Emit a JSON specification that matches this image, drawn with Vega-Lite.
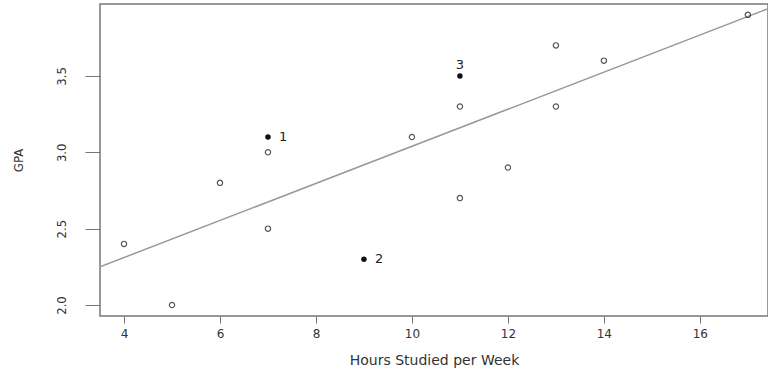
{
  "$schema": "https://vega.github.io/schema/vega-lite/v6.json",
  "width": 668,
  "height": 312,
  "autosize": {"type": "none"},
  "padding": {"left": 100, "top": 4, "right": 0, "bottom": 54},
  "background": "white",
  "config": {
    "view": {"stroke": "#777", "strokeWidth": 1.5},
    "font": "DejaVu Sans"
  },
  "datasets": {
    "pts": [
      {"hours": 4, "gpa": 2.4, "type": "open", "label": ""},
      {"hours": 5, "gpa": 2.0, "type": "open", "label": ""},
      {"hours": 6, "gpa": 2.8, "type": "open", "label": ""},
      {"hours": 7, "gpa": 3.0, "type": "open", "label": ""},
      {"hours": 7, "gpa": 2.5, "type": "open", "label": ""},
      {"hours": 10, "gpa": 3.1, "type": "open", "label": ""},
      {"hours": 11, "gpa": 3.3, "type": "open", "label": ""},
      {"hours": 11, "gpa": 2.7, "type": "open", "label": ""},
      {"hours": 12, "gpa": 2.9, "type": "open", "label": ""},
      {"hours": 13, "gpa": 3.7, "type": "open", "label": ""},
      {"hours": 13, "gpa": 3.3, "type": "open", "label": ""},
      {"hours": 14, "gpa": 3.6, "type": "open", "label": ""},
      {"hours": 17, "gpa": 3.9, "type": "open", "label": ""},
      {"hours": 7, "gpa": 3.1, "type": "filled", "label": "1"},
      {"hours": 9, "gpa": 2.3, "type": "filled", "label": "2"},
      {"hours": 11, "gpa": 3.5, "type": "filled", "label": "3"}
    ],
    "fit": [
      {"hours": 3.5, "gpa": 2.25},
      {"hours": 17.42, "gpa": 3.94}
    ]
  },
  "layer": [
    {
      "data": {"name": "fit"},
      "mark": {"type": "line", "color": "#999", "strokeWidth": 1.5, "clip": true},
      "encoding": {
        "x": {
          "field": "hours", "type": "quantitative",
          "scale": {"domain": [3.5, 17.42], "nice": false, "zero": false},
          "axis": {
            "title": "Hours Studied per Week",
            "values": [4, 6, 8, 10, 12, 14, 16],
            "grid": false, "domain": false,
            "tickSize": 7, "tickColor": "#777",
            "labelFont": "DejaVu Sans",
            "labelFontSize": 12, "labelColor": "#333", "labelPadding": 5,
            "titleFont": "DejaVu Sans",
            "titleFontSize": 14, "titleFontWeight": "normal", "titleColor": "#333", "titlePadding": 14
          }
        },
        "y": {
          "field": "gpa", "type": "quantitative",
          "scale": {"domain": [1.928, 3.971], "nice": false, "zero": false},
          "axis": {
            "title": "GPA",
            "values": [2.0, 2.5, 3.0, 3.5],
            "format": ".1f",
            "grid": false, "domain": false,
            "tickSize": 15, "tickColor": "#777",
            "labelAngle": -90, "labelAlign": "center", "labelBaseline": "bottom",
            "labelFont": "DejaVu Sans Condensed, Liberation Sans",
            "labelFontSize": 13, "labelColor": "#333", "labelPadding": 17,
            "titleFont": "DejaVu Sans Condensed, Liberation Sans",
            "titleFontSize": 13, "titleFontWeight": "normal", "titleColor": "#333", "titlePadding": 30
          }
        }
      }
    },
    {
      "data": {"name": "pts"},
      "transform": [{"filter": "datum.type == 'open'"}],
      "mark": {"type": "point", "shape": "circle", "filled": false, "stroke": "#111", "strokeWidth": 1.2, "size": 28},
      "encoding": {
        "x": {"field": "hours", "type": "quantitative"},
        "y": {"field": "gpa", "type": "quantitative"}
      }
    },
    {
      "data": {"name": "pts"},
      "transform": [{"filter": "datum.type == 'filled'"}],
      "mark": {"type": "point", "shape": "circle", "filled": true, "color": "#111", "opacity": 1, "size": 30},
      "encoding": {
        "x": {"field": "hours", "type": "quantitative"},
        "y": {"field": "gpa", "type": "quantitative"}
      }
    },
    {
      "data": {"name": "pts"},
      "transform": [{"filter": "datum.label == '1' || datum.label == '2'"}],
      "mark": {"type": "text", "align": "left", "baseline": "middle", "dx": 11, "fontSize": 13, "color": "#222"},
      "encoding": {
        "x": {"field": "hours", "type": "quantitative"},
        "y": {"field": "gpa", "type": "quantitative"},
        "text": {"field": "label"}
      }
    },
    {
      "data": {"name": "pts"},
      "transform": [{"filter": "datum.label == '3'"}],
      "mark": {"type": "text", "align": "center", "baseline": "bottom", "dy": -4, "fontSize": 13, "color": "#222"},
      "encoding": {
        "x": {"field": "hours", "type": "quantitative"},
        "y": {"field": "gpa", "type": "quantitative"},
        "text": {"field": "label"}
      }
    }
  ]
}
